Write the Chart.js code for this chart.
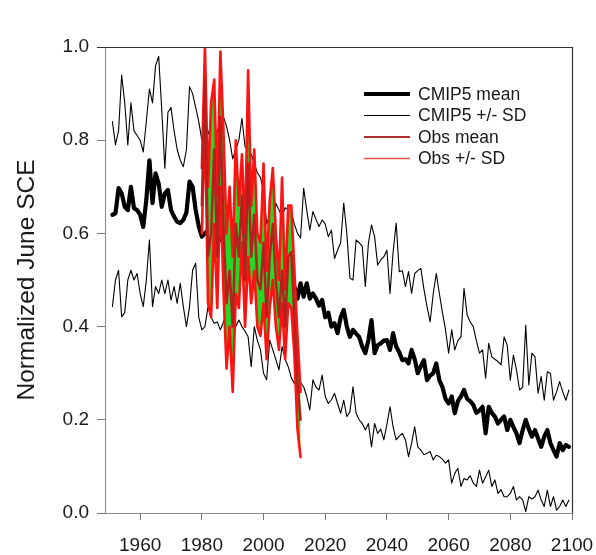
<!DOCTYPE html>
<html>
<head>
<meta charset="utf-8">
<script src="https://cdn.jsdelivr.net/npm/chart.js@4.4.1/dist/chart.umd.min.js"></script>
<style>
  html, body { margin: 0; padding: 0; background: #ffffff; }
  #wrap { width: 596px; height: 555px; }
</style>
</head>
<body>
<div id="wrap"><canvas id="c" width="596" height="555"></canvas></div>
<script>
// ---------- DATA ----------
const CMIP_START = 1951, CMIP_END = 2099;
const OBS_START = 1980, OBS_END = 2012;

const cmipYears = [];
for (let y = CMIP_START; y <= CMIP_END; y++) cmipYears.push(y);
const obsYears = [];
for (let y = OBS_START; y <= OBS_END; y++) obsYears.push(y);

// CMIP5 multi-model mean (1951-2099)
const cmipMean = [
  0.640,0.643,0.697,0.686,0.657,0.650,0.700,0.654,0.650,0.640, // 1951-1960
  0.614,0.672,0.757,0.665,0.729,0.707,0.657,0.686,0.693,0.650, // 1961-1970
  0.636,0.625,0.622,0.629,0.645,0.711,0.700,0.650,0.615,0.593, // 1971-1980
  0.600,0.607,0.600,0.600,0.590,0.586,0.600,0.580,0.600,0.620, // 1981-1990
  0.610,0.640,0.700,0.620,0.590,0.579,0.550,0.540,0.529,0.550, // 1991-2000
  0.572,0.540,0.521,0.510,0.493,0.490,0.480,0.471,0.480,0.486, // 2001-2010
  0.460,0.493,0.464,0.493,0.460,0.471,0.460,0.445,0.457,0.420, // 2011-2020
  0.430,0.400,0.407,0.386,0.420,0.436,0.400,0.378,0.393,0.385, // 2021-2030
  0.378,0.357,0.343,0.371,0.414,0.343,0.360,0.364,0.370,0.371, // 2031-2040
  0.350,0.386,0.357,0.345,0.328,0.330,0.321,0.350,0.330,0.300, // 2041-2050
  0.315,0.328,0.285,0.295,0.300,0.321,0.285,0.270,0.245,0.235, // 2051-2060
  0.250,0.214,0.240,0.250,0.264,0.245,0.240,0.232,0.215,0.220, // 2061-2070
  0.228,0.171,0.228,0.215,0.207,0.192,0.200,0.207,0.178,0.200, // 2071-2080
  0.185,0.171,0.150,0.178,0.200,0.180,0.164,0.178,0.160,0.142, // 2081-2090
  0.164,0.178,0.150,0.135,0.121,0.150,0.135,0.146,0.142        // 2091-2099
];

// CMIP5 mean + SD
const cmipUpper = [
  0.840,0.790,0.820,0.940,0.880,0.790,0.880,0.820,0.810,0.800,
  0.775,0.840,0.910,0.880,0.960,0.980,0.865,0.740,0.860,0.870,
  0.820,0.780,0.757,0.743,0.780,0.915,0.900,0.870,0.840,0.800,
  0.780,0.820,0.800,0.760,0.820,0.840,0.850,0.830,0.800,0.760,
  0.780,0.800,0.847,0.786,0.780,0.770,0.750,0.730,0.720,0.690,
  0.620,0.640,0.620,0.665,0.650,0.636,0.655,0.650,0.645,0.620,
  0.600,0.590,0.697,0.650,0.607,0.647,0.630,0.615,0.629,0.620,
  0.593,0.607,0.546,0.564,0.580,0.665,0.600,0.504,0.500,0.586,
  0.580,0.572,0.486,0.579,0.618,0.593,0.532,0.543,0.550,0.564,
  0.471,0.560,0.622,0.518,0.520,0.486,0.518,0.471,0.514,0.520,
  0.525,0.480,0.443,0.410,0.470,0.514,0.471,0.430,0.393,0.343,
  0.393,0.350,0.370,0.378,0.482,0.425,0.410,0.400,0.370,0.343,
  0.350,0.289,0.364,0.335,0.330,0.325,0.318,0.378,0.360,0.285,
  0.339,0.307,0.264,0.270,0.403,0.275,0.343,0.335,0.257,0.293,
  0.242,0.303,0.300,0.242,0.260,0.282,0.260,0.242,0.264
];

// CMIP5 mean - SD
const cmipLower = [
  0.443,0.500,0.521,0.421,0.430,0.500,0.521,0.500,0.514,0.471,
  0.443,0.500,0.586,0.443,0.486,0.471,0.500,0.471,0.500,0.457,
  0.486,0.450,0.493,0.443,0.400,0.443,0.521,0.536,0.420,0.393,
  0.400,0.443,0.420,0.407,0.410,0.393,0.410,0.430,0.464,0.386,
  0.400,0.414,0.400,0.390,0.378,0.314,0.400,0.370,0.350,0.300,
  0.286,0.371,0.350,0.329,0.307,0.357,0.330,0.314,0.290,0.278,
  0.293,0.280,0.271,0.250,0.221,0.286,0.270,0.264,0.296,0.250,
  0.235,0.243,0.257,0.235,0.214,0.242,0.207,0.217,0.271,0.214,
  0.200,0.192,0.178,0.192,0.142,0.192,0.171,0.180,0.157,0.190,
  0.228,0.185,0.157,0.165,0.171,0.157,0.121,0.150,0.185,0.142,
  0.135,0.125,0.128,0.132,0.114,0.124,0.121,0.115,0.107,0.114,
  0.064,0.085,0.096,0.057,0.074,0.071,0.080,0.064,0.057,0.092,
  0.064,0.078,0.092,0.057,0.071,0.042,0.050,0.035,0.035,0.042,
  0.057,0.028,0.035,0.028,0.003,0.035,0.030,0.035,0.049,0.028,
  0.014,0.049,0.014,0.035,0.006,0.014,0.028,0.014,0.028
];

// Observations (1980-2012)
const obsMean = [
  0.66,0.93,0.55,0.60,0.78,0.55,0.85,0.62,0.45,0.52,
  0.40,0.62,0.55,0.68,0.50,0.75,0.55,0.64,0.50,0.48,
  0.58,0.42,0.55,0.62,0.50,0.42,0.52,0.40,0.55,0.56,
  0.42,0.28,0.20
];
const obsUpper = [
  0.74,1.00,0.70,0.88,0.93,0.68,0.99,0.82,0.60,0.70,
  0.55,0.80,0.66,0.77,0.60,0.95,0.66,0.78,0.60,0.58,
  0.75,0.52,0.67,0.74,0.60,0.50,0.72,0.48,0.66,0.66,
  0.52,0.38,0.26
];
const obsLower = [
  0.60,0.85,0.45,0.42,0.62,0.44,0.70,0.48,0.31,0.40,
  0.26,0.47,0.44,0.58,0.40,0.55,0.45,0.52,0.40,0.38,
  0.45,0.33,0.44,0.50,0.40,0.35,0.45,0.33,0.45,0.44,
  0.34,0.18,0.12
];

const xTickValues = [1960, 1980, 2000, 2020, 2040, 2060, 2080, 2100];
const yTickValues = [0.0, 0.2, 0.4, 0.6, 0.8, 1.0];
const yAxisTitle = 'Normalized June SCE';
const legendLabels = ['CMIP5 mean', 'CMIP5 +/- SD', 'Obs mean', 'Obs +/- SD'];

// ---------- CHART ----------
const FONT = "'Liberation Sans', Arial, sans-serif";
const toPts = (xs, ys) => xs.map((x, i) => ({ x: x, y: ys[i] }));

const styles = {
  cmipMean: { color: '#000000', width: 4.2 },
  cmipSD:   { color: '#000000', width: 1.1 },
  obsMean:  { color: '#b3201e', width: 2.5 },
  obsSD:    { color: '#ff1212', width: 2.6 },
  obsFill:  '#27d627'
};

const legendPlugin = {
  id: 'customLegend',
  afterDraw(chart) {
    const ctx = chart.ctx;
    const items = [
      { label: legendLabels[0], s: styles.cmipMean },
      { label: legendLabels[1], s: styles.cmipSD },
      { label: legendLabels[2], s: { color: '#b03030', width: 2 } },
      { label: legendLabels[3], s: { color: '#e85050', width: 1.5 } }
    ];
    const x0 = 364, x1 = 410, xt = 418;
    const rows = [94, 115.5, 137, 158.5];
    ctx.save();
    ctx.font = '17.5px ' + FONT;
    ctx.textBaseline = 'middle';
    ctx.fillStyle = '#1a1a1a';
    items.forEach((it, i) => {
      ctx.beginPath();
      ctx.strokeStyle = it.s.color;
      ctx.lineWidth = it.s.width;
      ctx.moveTo(x0, rows[i]);
      ctx.lineTo(x1, rows[i]);
      ctx.stroke();
      ctx.fillText(it.label, xt, rows[i] + 1);
    });
    ctx.restore();
  }
};

const framePlugin = {
  id: 'frame',
  afterDatasetsDraw(chart) {
    const a = chart.chartArea, ctx = chart.ctx;
    ctx.save();
    ctx.strokeStyle = '#333333';
    ctx.lineWidth = 1.2;
    ctx.beginPath();
    ctx.moveTo(a.left - 8, a.top + 0.5);
    ctx.lineTo(a.right + 0.5, a.top + 0.5);
    ctx.lineTo(a.right + 0.5, a.bottom);
    ctx.stroke();
    ctx.restore();
  }
};

new Chart(document.getElementById('c'), {
  type: 'line',
  data: {
    datasets: [
      { label: 'Obs mean', data: toPts(obsYears, obsMean),
        borderColor: styles.obsMean.color, borderWidth: styles.obsMean.width, fill: false },
      { label: 'Obs - SD', data: toPts(obsYears, obsLower),
        borderColor: styles.obsSD.color, borderWidth: styles.obsSD.width, fill: false },
      { label: 'Obs + SD', data: toPts(obsYears, obsUpper),
        borderColor: styles.obsSD.color, borderWidth: styles.obsSD.width,
        fill: { target: 1 }, backgroundColor: styles.obsFill },
      { label: 'CMIP5 mean', data: toPts(cmipYears, cmipMean),
        borderColor: styles.cmipMean.color, borderWidth: styles.cmipMean.width, fill: false },
      { label: 'CMIP5 + SD', data: toPts(cmipYears, cmipUpper),
        borderColor: styles.cmipSD.color, borderWidth: styles.cmipSD.width, fill: false },
      { label: 'CMIP5 - SD', data: toPts(cmipYears, cmipLower),
        borderColor: styles.cmipSD.color, borderWidth: styles.cmipSD.width, fill: false }
    ]
  },
  options: {
    responsive: false,
    animation: false,
    devicePixelRatio: 1,
    layout: { padding: { top: 47, right: 24, left: 0, bottom: 0 } },
    elements: {
      point: { radius: 0 },
      line: { tension: 0, borderJoinStyle: 'round', borderCapStyle: 'round' }
    },
    plugins: {
      legend: { display: false },
      tooltip: { enabled: false }
    },
    scales: {
      x: {
        type: 'linear',
        min: 1948.6,
        max: 2100,
        afterBuildTicks(scale) { scale.ticks = xTickValues.map(v => ({ value: v })); },
        afterFit(scale) { scale.height = 42; scale.paddingLeft = 0; scale.paddingRight = 0; },
        grid: { drawOnChartArea: false, drawTicks: true, tickLength: 7, color: '#777777', lineWidth: 1 },
        border: { display: true, color: '#888888', width: 1 },
        ticks: {
          font: { family: FONT, size: 19 },
          color: '#1a1a1a',
          padding: 14,
          maxRotation: 0,
          autoSkip: false,
          callback: v => String(v)
        }
      },
      y: {
        min: 0,
        max: 1,
        afterBuildTicks(scale) { scale.ticks = yTickValues.map(v => ({ value: v })); },
        afterFit(scale) { scale.width = 105; scale.paddingTop = 0; scale.paddingBottom = 0; },
        grid: { drawOnChartArea: false, drawTicks: true, tickLength: 8, color: '#777777', lineWidth: 1 },
        border: { display: true, color: '#888888', width: 1 },
        ticks: {
          font: { family: FONT, size: 19 },
          color: '#1a1a1a',
          padding: 8,
          callback: v => Number(v).toFixed(1)
        },
        title: {
          display: true,
          text: yAxisTitle,
          font: { family: FONT, size: 24.5 },
          color: '#1a1a1a',
          padding: { top: 13, bottom: 0 }
        }
      }
    }
  },
  plugins: [legendPlugin, framePlugin]
});
</script>
</body>
</html>
